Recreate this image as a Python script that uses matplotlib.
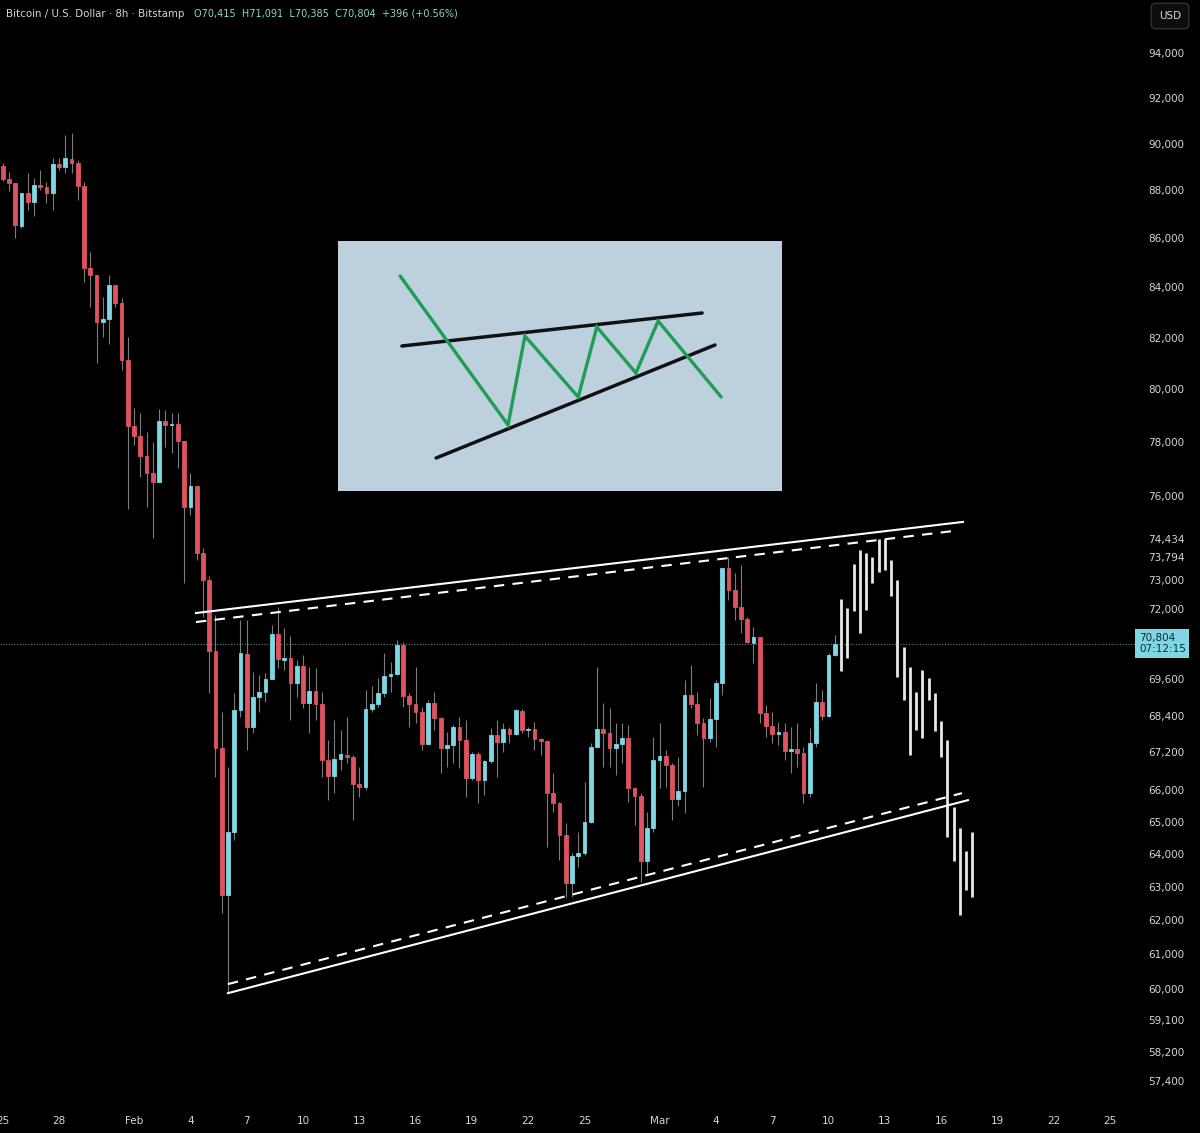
import numpy as np
import pandas as pd
import matplotlib
matplotlib.use('Agg')
import matplotlib.pyplot as plt
import matplotlib.dates as mdates
import matplotlib.transforms as mtransforms
from matplotlib.ticker import NullLocator

# BTC/USD 8h candles (Bitstamp), first candle 2026-01-25 00:00
start = '2026-01-25 00:00'

opens = [89040, 88490, 88320, 86510, 87890, 87520, 88230, 88150, 87890, 89120,
         89000, 89340, 89170, 88190, 84790, 84500, 82620, 82740, 84100, 83380,
         81130, 78600, 78220, 77470, 76840, 76510, 78790, 78640, 78670, 78030,
         75600, 76370, 73950, 73000, 70550, 67340, 62760, 64680, 68580, 70450,
         68030, 69010, 69180, 69610, 71130, 70260, 70310, 69480, 70050, 68810,
         69210, 68780, 66960, 66450, 66990, 67130, 67050, 66190, 66100, 68620,
         68780, 69150, 69710, 69780, 70760, 69050, 68780, 68520, 67470, 68810,
         68320, 67340, 67440, 68030, 67600, 66380, 67150, 66320, 66930, 67770,
         67540, 67960, 67800, 68550, 67930, 67960, 67640, 67570, 65900, 65590,
         64590, 63120, 63940, 64040, 65000, 67380, 67960, 67830, 67340, 67470,
         67670, 66060, 65810, 63790, 64810, 66960, 67090, 66800, 65720, 65970,
         69080, 68780, 68160, 67670, 68290, 69480, 73420, 72650, 72060, 71640,
         70820, 71030, 68490, 68060, 67800, 67860, 67250, 67310, 67180, 65900,
         67500, 68850, 68390, 70415]
highs = [89170, 88780, 88330, 87900, 88740, 88530, 88870, 88360, 89380, 89380,
         90370, 90460, 89300, 88360, 85440, 84510, 83620, 84500, 84110, 83580,
         82030, 79280, 79090, 78370, 78000, 79240, 79200, 79090, 79090, 78040,
         76840, 76380, 74130, 73140, 71780, 68520, 66730, 69150, 71610, 71610,
         69850, 69740, 69810, 71440, 72060, 71340, 71060, 70250, 70420, 70010,
         69980, 69180, 67600, 68260, 67930, 68350, 67120, 66730, 69250, 69380,
         69640, 70490, 70180, 70930, 70860, 69150, 70010, 68680, 68910, 69180,
         68350, 67860, 68090, 68350, 68260, 67210, 67210, 66960, 67990, 68260,
         68160, 68030, 68620, 68620, 68030, 68190, 67670, 67600, 66540, 65620,
         64960, 64030, 64680, 66250, 67510, 70010, 68810, 68650, 68160, 68160,
         68090, 66100, 65900, 65310, 67700, 68160, 67280, 66860, 67050, 69580,
         70080, 69180, 68320, 68980, 69580, 73430, 73794, 73240, 73530, 71710,
         71370, 71040, 68750, 68520, 68190, 68160, 68030, 68160, 67380, 67990,
         69480, 69250, 70490, 71091]
lows = [88400, 87980, 86020, 86430, 87180, 86930, 88020, 87470, 87180, 88870,
        88740, 88740, 87600, 84220, 83220, 81010, 82030, 81750, 83220, 80740,
        75530, 77880, 76700, 75600, 74480, 76500, 77810, 77590, 77030, 72890,
        75310, 73700, 71710, 69150, 66410, 62220, 59870, 64440, 68350, 67280,
        67830, 68520, 68850, 69600, 69980, 69910, 68260, 69010, 68650, 67830,
        68260, 66410, 65680, 65900, 66640, 66860, 65060, 65780, 66000, 68520,
        68680, 69010, 69180, 69740, 68680, 68030, 68160, 67280, 67440, 67930,
        66540, 66730, 66860, 66700, 65780, 66320, 65590, 65840, 66860, 66410,
        67220, 67510, 67770, 67830, 67700, 67280, 67120, 64220, 65310, 63820,
        62700, 62700, 63610, 63970, 64960, 67370, 66730, 66730, 66480, 66860,
        65620, 64900, 63150, 63420, 64680, 66060, 66100, 65060, 65500, 65280,
        68650, 67770, 66100, 67540, 67380, 69080, 72300, 71610, 71160, 70820,
        70150, 68160, 67700, 67510, 67440, 66960, 66540, 66730, 65590, 65780,
        67380, 68260, 68350, 70385]
closes = [88490, 88320, 86550, 87890, 87520, 88230, 88150, 87890, 89120, 89000,
          89380, 89170, 88190, 84790, 84500, 82620, 82740, 84100, 83380, 81130,
          78600, 78220, 77470, 76840, 76510, 78790, 78640, 78670, 78030, 75600,
          76370, 73950, 73000, 70550, 67340, 62760, 64680, 68580, 70490, 68030,
          69010, 69180, 69610, 71130, 70280, 70310, 69480, 70050, 68810, 69210,
          68780, 66960, 66450, 66990, 67150, 67050, 66190, 66100, 68620, 68780,
          69150, 69710, 69780, 70760, 69050, 68780, 68520, 67470, 68810, 68320,
          67340, 67440, 68030, 67600, 66380, 67150, 66320, 66930, 67770, 67540,
          67960, 67800, 68580, 67930, 67960, 67640, 67570, 65900, 65590, 64590,
          63120, 63940, 64040, 65000, 67380, 67960, 67830, 67340, 67470, 67670,
          66060, 65810, 63790, 64810, 66960, 67090, 66800, 65720, 65970, 69080,
          68780, 68160, 67670, 68290, 69480, 73420, 72650, 72060, 71640, 70860,
          71030, 68490, 68060, 67800, 67860, 67250, 67310, 67180, 65900, 67500,
          68850, 68390, 70408, 70804]

# projected bars (white) after the last real candle
proj_high = [72340, 72020, 73560, 74060, 73950, 73810, 74434, 74434, 73700, 73000, 70690,
             70010, 69180, 69910, 69640, 69150, 68220, 67600, 65460, 64810, 64100, 64680]
proj_low = [69880, 70320, 71920, 71160, 71960, 72890, 73280, 73350, 72440, 69680, 68910,
            67120, 67930, 67670, 68910, 67900, 67050, 64530, 63790, 62160, 62910, 62700]

# channel lines (time, price anchors)
upper_solid = (['2026-02-04 07:10', '2026-03-17 03:50'], [71850, 75060])
upper_dash = (['2026-02-04 07:10', '2026-03-16 17:30'], [71540, 74740])
lower_solid = (['2026-02-06 00:00', '2026-03-17 10:20'], [59870, 65680])
lower_dash = (['2026-02-06 00:00', '2026-03-17 02:40'], [60130, 65900])

last_price = 70804

price_ticks = [94000, 92000, 90000, 88000, 86000, 84000, 82000, 80000, 78000, 76000,
               74434, 73794, 73000, 72000, 69600, 68400, 67200, 66000, 65000, 64000,
               63000, 62000, 61000, 60000, 59100, 58200, 57400]
date_ticks = ['2026-01-25', '2026-01-28', '2026-02-01', '2026-02-04', '2026-02-07',
              '2026-02-10', '2026-02-13', '2026-02-16', '2026-02-19', '2026-02-22',
              '2026-02-25', '2026-03-01', '2026-03-04', '2026-03-07', '2026-03-10',
              '2026-03-13', '2026-03-16', '2026-03-19', '2026-03-22', '2026-03-25']
date_labels = ['25', '28', 'Feb', '4', '7', '10', '13', '16', '19', '22', '25',
               'Mar', '4', '7', '10', '13', '16', '19', '22', '25']

# inset sketch of the pattern (inset units 0..1)
sketch_x = [0.140, 0.383, 0.421, 0.541, 0.583, 0.671, 0.721, 0.863]
sketch_y = [0.860, 0.264, 0.620, 0.376, 0.656, 0.472, 0.680, 0.376]
sketch_top = ([0.144, 0.820], [0.580, 0.712])
sketch_bot = ([0.221, 0.849], [0.132, 0.584])

UP = '#7fd6e4'
DOWN = '#e0525f'
TXT = '#d6d6d6'

fig = plt.figure(figsize=(12, 11.33), dpi=100, facecolor='black')
ax = fig.add_axes([0, 28 / 1133, 1135 / 1200, 1105 / 1133], facecolor='black')

n = len(opens)
times = pd.date_range(start, periods=n + len(proj_high), freq='8h')
x = mdates.date2num(times)
xr, xp = x[:n], x[n:]
o, h, l, c = map(np.array, (opens, highs, lows, closes))
up = c >= o
cols = np.where(up, UP, DOWN)

ax.vlines(xr, l, h, color='#7c7c7c', lw=0.8, zorder=2)
ax.bar(xr, np.abs(c - o), bottom=np.minimum(o, c), width=0.2, color=cols,
       edgecolor=cols, lw=0.6, zorder=3)
ax.vlines(xp, proj_low, proj_high, color='#e8e8e8', lw=2.0, zorder=3)

for (ts, ps), ls in [(upper_solid, '-'), (upper_dash, (0, (5, 4))),
                     (lower_solid, '-'), (lower_dash, (0, (5, 4)))]:
    ax.plot(mdates.date2num(pd.to_datetime(ts)), ps, color='white', lw=1.5, ls=ls,
            zorder=4)

ax.axhline(last_price, color='#4f8189', lw=0.8, ls=(0, (1, 1.5)), zorder=1)

ax.set_yscale('log')
ax.set_ylim(56742, 96421)
x0 = mdates.date2num(pd.Timestamp(start))
ax.set_xlim(x0 - 0.144, x0 + 60.33)

ax.yaxis.tick_right()
ax.yaxis.set_minor_locator(NullLocator())
ax.set_yticks(price_ticks)
ax.set_yticklabels([f'{v:,}' for v in price_ticks])
ax.set_xticks(mdates.date2num(pd.to_datetime(date_ticks)))
ax.set_xticklabels(date_labels)
ax.tick_params(axis='y', length=0, pad=9.5, labelsize=7.5, colors=TXT)
ax.tick_params(axis='x', length=0, pad=8, labelsize=7.5, colors=TXT)
for s in ax.spines.values():
    s.set_visible(False)

trans = mtransforms.blended_transform_factory(ax.transAxes, ax.transData)
ax.text(1.0035, last_price, f'{last_price:,}\n07:12:15', transform=trans,
        ha='left', va='center', fontsize=7.5, color='#0b2a31', linespacing=1.15,
        bbox=dict(boxstyle='square,pad=0.35', fc=UP, ec='none'), clip_on=False)

# header
fig.text(6 / 1200, 1 - 14 / 1133, 'Bitcoin / U.S. Dollar · 8h · Bitstamp',
         color=TXT, fontsize=7.4, va='center', ha='left')
fig.text(194 / 1200, 1 - 14 / 1133, 'O70,415  H71,091  L70,385  C70,804  +396 (+0.56%)',
         color='#8fd3cf', fontsize=7.0, va='center', ha='left')
fig.text(1170 / 1200, 1 - 16 / 1133, 'USD', color=TXT, fontsize=7.5, va='center', ha='center',
         bbox=dict(boxstyle='round,pad=0.75,rounding_size=0.45', fc='#0d0d0d', ec='#3a3a3a', lw=0.8))

# inset illustration
ins = fig.add_axes([338 / 1200, 1 - 491 / 1133, 444 / 1200, 250 / 1133], facecolor='#bdd0de')
ins.set_xlim(0, 1)
ins.set_ylim(0, 1)
ins.set_xticks([])
ins.set_yticks([])
for s in ins.spines.values():
    s.set_visible(False)
ins.plot(*sketch_top, color='#111111', lw=2.5, solid_capstyle='round')
ins.plot(*sketch_bot, color='#111111', lw=2.5, solid_capstyle='round')
ins.plot(sketch_x, sketch_y, color='#1f9e53', lw=2.4, solid_capstyle='round',
         solid_joinstyle='miter')

fig.savefig('out.png', dpi=100, facecolor='black')
